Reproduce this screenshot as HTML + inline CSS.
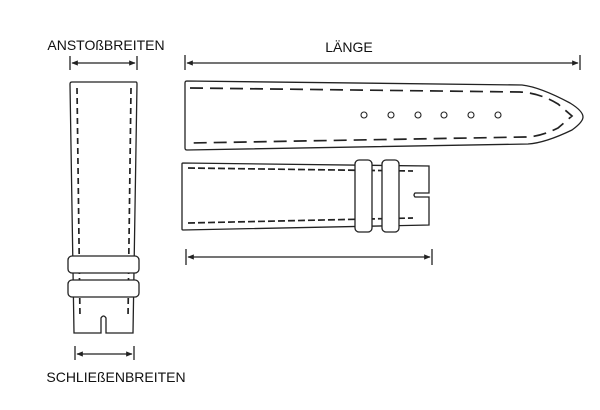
<!DOCTYPE html>
<html><head><style>body{margin:0;background:#fff}svg{display:block}</style></head><body>
<svg width="600" height="410" viewBox="0 0 600 410" xmlns="http://www.w3.org/2000/svg" font-family="Liberation Sans, sans-serif">
<defs><marker id="a" viewBox="0 0 10 10" refX="9" refY="5" markerWidth="7" markerHeight="5" orient="auto-start-reverse"><path d="M0,1 L10,5 L0,9z" fill="#222"/></marker></defs>
<g fill="none" stroke="#222" stroke-width="1.3">
<line x1="70" y1="56" x2="70" y2="70"/><line x1="137" y1="56" x2="137" y2="70"/>
<line x1="72" y1="63" x2="135" y2="63" marker-start="url(#a)" marker-end="url(#a)"/>
<line x1="75" y1="346" x2="75" y2="360"/><line x1="134" y1="346" x2="134" y2="360"/>
<line x1="77" y1="354" x2="132" y2="354" marker-start="url(#a)" marker-end="url(#a)"/>
<line x1="185" y1="55" x2="185" y2="70"/><line x1="580" y1="55" x2="580" y2="70"/>
<line x1="187" y1="63" x2="578" y2="63" marker-start="url(#a)" marker-end="url(#a)"/>
<line x1="186" y1="249" x2="186" y2="265"/><line x1="432" y1="249" x2="432" y2="265"/>
<line x1="188" y1="257" x2="430" y2="257" marker-start="url(#a)" marker-end="url(#a)"/>
<path d="M72,82 L136,82 Q137,82 137,84 L133,333 L106,333 L106,318 Q103.5,314 101,318 L101,333 L74,333 L70,84 Q70,82 72,82Z"/>
<path d="M77,88 L80,318 M131,88 L128,318" stroke-width="1.7" stroke-dasharray="6,4"/>
<rect x="68" y="256" width="71" height="17" rx="4" fill="#fff"/>
<rect x="68" y="280" width="71" height="17" rx="4" fill="#fff"/>
<path d="M187,81 L522,85 Q540,87 570,103 Q583,111 583,117 Q583,122 572,130 Q545,143 528,144 L187,150 Q185,150 185,148 L185,83 Q185,81 187,81Z"/>
<path d="M190,88 L520,92 Q540,93 558,104 L572,116 L558,128 Q540,137 525,137 L190,143" stroke-width="1.7" stroke-dasharray="13,7"/>
<g stroke-width="1.1"><circle cx="364" cy="115" r="3"/><circle cx="391" cy="115" r="3"/><circle cx="418" cy="115" r="3"/><circle cx="444" cy="115" r="3"/><circle cx="471" cy="115" r="3"/><circle cx="498" cy="115" r="3"/></g>
<path d="M183,163 L429,166 L429,193 L415,193 Q413,195 415,197 L429,197 L429,225 L183,230 Q182,230 182,229 L182,164 Q182,163 183,163Z"/>
<path d="M188,168 L413,171 M188,223 L413,218" stroke-width="1.7" stroke-dasharray="7,3"/>
<rect x="355" y="160" width="17" height="72" rx="4" fill="#fff"/>
<rect x="382" y="160" width="17" height="72" rx="4" fill="#fff"/>
</g>
<g font-size="14" fill="#111" text-anchor="middle">
<text x="106" y="50">ANSTOßBREITEN</text>
<text x="349" y="52">LÄNGE</text>
<text x="116" y="382">SCHLIEßENBREITEN</text>
</g>
</svg>
</body></html>
